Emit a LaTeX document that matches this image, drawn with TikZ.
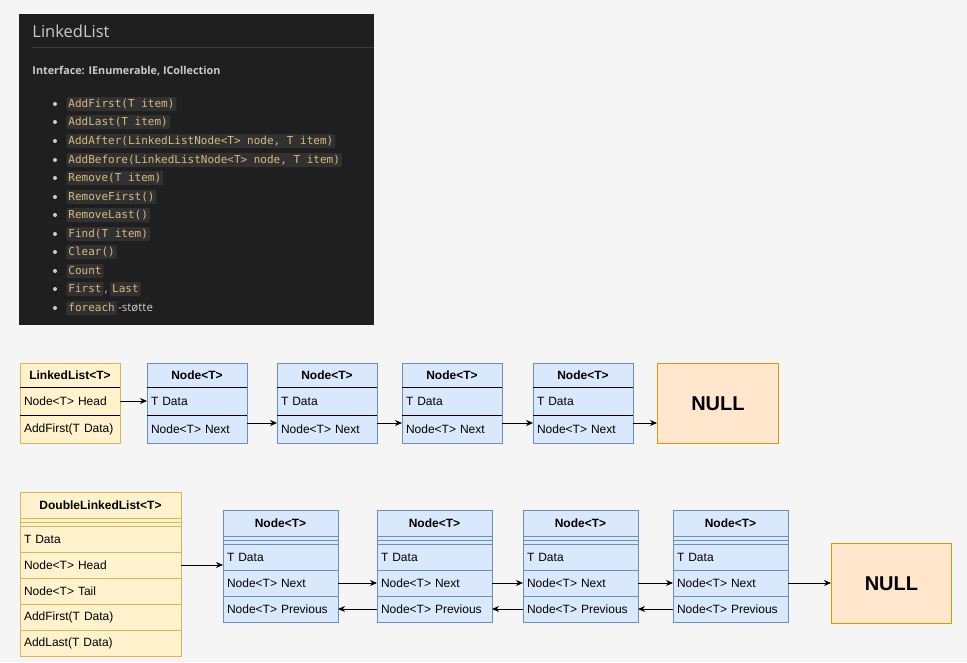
\documentclass[tikz,border=0pt]{standalone}
\usepackage{fontspec}
\setmainfont{Liberation Sans}
\newfontfamily\uifont{Open Sans}
\newfontfamily\codefont{DejaVu Sans Mono}
\usetikzlibrary{positioning,arrows.meta}
\definecolor{bg}{HTML}{F5F5F5}
\definecolor{panel}{HTML}{1F1F1F}
\definecolor{chipbg}{HTML}{313131}
\definecolor{gold}{HTML}{D7BA7D}
\definecolor{ltext}{HTML}{CCCCCC}
\definecolor{rulec}{HTML}{3A3A3A}
\definecolor{yfill}{HTML}{FFF2CC}
\definecolor{ydraw}{HTML}{D6B656}
\definecolor{bfill}{HTML}{DAE8FC}
\definecolor{bdraw}{HTML}{6C8EBF}
\definecolor{nfill}{HTML}{FFE6CC}
\definecolor{ndraw}{HTML}{D79B00}

\begin{document}
\begin{tikzpicture}[x=1pt,y=-1pt,line width=0.9pt,
  hd/.style={anchor=north west,minimum width=#1,minimum height=24pt,inner sep=0pt,outer sep=0pt,font=\fontsize{12}{14}\selectfont\bfseries},
  rw/.style={text width=#1,inner xsep=4pt,inner ysep=0pt,outer sep=0pt,minimum height=28pt,align=left,font=\fontsize{12}{14}\selectfont},
  dr/.style={rw=#1,minimum height=26pt},
  sp/.style={minimum width=#1,minimum height=8pt,inner sep=0pt,outer sep=0pt},
  nul/.style={anchor=north west,fill=nfill,draw=ndraw,inner sep=0pt,font=\fontsize{20}{24}\selectfont\bfseries},
  arr/.style={-{Stealth[length=7pt,width=6pt]}},
  chip/.style={anchor=west,fill=chipbg,rounded corners=2pt,text=gold,font=\codefont\fontsize{11}{12}\selectfont,inner xsep=2pt,inner ysep=1.5pt,text height=8.5pt,text depth=2.5pt},
  plain/.style={anchor=west,inner sep=0pt,text=ltext,font=\uifont\fontsize{11.5}{13}\selectfont}]
\fill[bg] (0,0) rectangle (967,662);
\useasboundingbox (0,0) rectangle (967,662);

% dark panel
\fill[panel] (19,14) rectangle (374,325);
\node[plain,font=\uifont\fontsize{16.5}{19}\selectfont] (ti) at (32,31) {LinkedList};
\draw[rulec] (32,47) -- (374,47);
\node[plain,font=\uifont\bfseries\fontsize{10.8}{12}\selectfont] (if) at (32,71) {Interface: IEnumerable, ICollection};
\foreach \y in {104,122,141,160,178,197,215,234,252,271,289,308}
  \fill[ltext] (55,\y) circle (2pt);
\node[chip] (m1) at (66,104) {AddFirst(T item)};
\node[chip] (m2) at (66,122) {AddLast(T item)};
\node[chip] (m3) at (66,141) {AddAfter(LinkedListNode<T> node, T item)};
\node[chip] (m4) at (66,160) {AddBefore(LinkedListNode<T> node, T item)};
\node[chip] (m5) at (66,178) {Remove(T item)};
\node[chip] (m6) at (66,197) {RemoveFirst()};
\node[chip] (m7) at (66,215) {RemoveLast()};
\node[chip] (m8) at (66,234) {Find(T item)};
\node[chip] (m9) at (66,252) {Clear()};
\node[chip] (m10) at (66,271) {Count};
\node[chip] (m11) at (66,289) {First};
\node[plain,text height=8.5pt,text depth=2.5pt,right=0.5pt of m11] (k) {,};
\node[chip,right=1.5pt of k] (m12) {Last};
\node[chip] (m13) at (66,308) {foreach};
\node[plain,text height=8.5pt,text depth=2.5pt,right=0.5pt of m13] (st) {-støtte};

% singly linked
\node[hd=100pt,fill=yfill] (l) at (20,363) {LinkedList<T>};
\node[rw=92pt,fill=yfill,below=0pt of l] (l1) {Node<T> Head};
\node[rw=92pt,fill=yfill,below=0pt of l1] (l2) {AddFirst(T Data)};
\draw[ydraw] (l.north west) rectangle (l2.south east);
\draw (l.south west) -- (l.south east) (l1.south west) -- (l1.south east);

\node[hd=100pt,fill=bfill] (a) at (147,363) {Node<T>};
\node[rw=92pt,fill=bfill,below=0pt of a] (a1) {T Data};
\node[rw=92pt,fill=bfill,below=0pt of a1] (a2) {Node<T> Next};
\draw[bdraw] (a.north west) rectangle (a2.south east);
\draw (a.south west) -- (a.south east) (a1.south west) -- (a1.south east);

\node[hd=100pt,fill=bfill] (b) at (277,363) {Node<T>};
\node[rw=92pt,fill=bfill,below=0pt of b] (b1) {T Data};
\node[rw=92pt,fill=bfill,below=0pt of b1] (b2) {Node<T> Next};
\draw[bdraw] (b.north west) rectangle (b2.south east);
\draw (b.south west) -- (b.south east) (b1.south west) -- (b1.south east);

\node[hd=100pt,fill=bfill] (c) at (402,363) {Node<T>};
\node[rw=92pt,fill=bfill,below=0pt of c] (c1) {T Data};
\node[rw=92pt,fill=bfill,below=0pt of c1] (c2) {Node<T> Next};
\draw[bdraw] (c.north west) rectangle (c2.south east);
\draw (c.south west) -- (c.south east) (c1.south west) -- (c1.south east);

\node[hd=100pt,fill=bfill] (d) at (533,363) {Node<T>};
\node[rw=92pt,fill=bfill,below=0pt of d] (d1) {T Data};
\node[rw=92pt,fill=bfill,below=0pt of d1] (d2) {Node<T> Next};
\draw[bdraw] (d.north west) rectangle (d2.south east);
\draw (d.south west) -- (d.south east) (d1.south west) -- (d1.south east);

\node[nul,minimum width=121pt,minimum height=80pt] (e) at (657,363) {NULL};

\draw[arr] (l1.east) -- (a1.west);
\draw[arr] ([yshift=6pt]a2.east) -- ([yshift=6pt]b2.west);
\draw[arr] ([yshift=6pt]b2.east) -- ([yshift=6pt]c2.west);
\draw[arr] ([yshift=6pt]c2.east) -- ([yshift=6pt]d2.west);
\path ([yshift=6pt]d2.east) coordinate (dn);
\draw[arr] (dn) -- (dn -| e.west);

% doubly linked
\node[hd=161pt,minimum height=26pt,fill=yfill] (z) at (20,492) {DoubleLinkedList<T>};
\node[sp=161pt,fill=yfill,below=0pt of z] (zs) {};
\node[dr=153pt,fill=yfill,below=0pt of zs] (z1) {T Data};
\node[dr=153pt,fill=yfill,below=0pt of z1] (z2) {Node<T> Head};
\node[dr=153pt,fill=yfill,below=0pt of z2] (z3) {Node<T> Tail};
\node[dr=153pt,fill=yfill,below=0pt of z3] (z4) {AddFirst(T Data)};
\node[dr=153pt,fill=yfill,below=0pt of z4] (z5) {AddLast(T Data)};
\draw[ydraw] (z.north west) rectangle (z5.south east);
\draw[ydraw] (z.south west) -- (z.south east) (zs.west) -- (zs.east) (zs.south west) -- (zs.south east)
  (z1.south west) -- (z1.south east) (z2.south west) -- (z2.south east)
  (z3.south west) -- (z3.south east) (z4.south west) -- (z4.south east);

\node[hd=115pt,minimum height=26pt,fill=bfill] (p) at (223,510) {Node<T>};
\node[sp=115pt,fill=bfill,below=0pt of p] (ps) {};
\node[dr=107pt,fill=bfill,below=0pt of ps] (p1) {T Data};
\node[dr=107pt,fill=bfill,below=0pt of p1] (p2) {Node<T> Next};
\node[dr=107pt,fill=bfill,below=0pt of p2] (p3) {Node<T> Previous};
\draw[bdraw] (p.north west) rectangle (p3.south east);
\draw[bdraw] (p.south west) -- (p.south east) (ps.west) -- (ps.east) (ps.south west) -- (ps.south east)
  (p1.south west) -- (p1.south east) (p2.south west) -- (p2.south east);

\node[hd=115pt,minimum height=26pt,fill=bfill] (q) at (377,510) {Node<T>};
\node[sp=115pt,fill=bfill,below=0pt of q] (qs) {};
\node[dr=107pt,fill=bfill,below=0pt of qs] (q1) {T Data};
\node[dr=107pt,fill=bfill,below=0pt of q1] (q2) {Node<T> Next};
\node[dr=107pt,fill=bfill,below=0pt of q2] (q3) {Node<T> Previous};
\draw[bdraw] (q.north west) rectangle (q3.south east);
\draw[bdraw] (q.south west) -- (q.south east) (qs.west) -- (qs.east) (qs.south west) -- (qs.south east)
  (q1.south west) -- (q1.south east) (q2.south west) -- (q2.south east);

\node[hd=115pt,minimum height=26pt,fill=bfill] (r) at (523,510) {Node<T>};
\node[sp=115pt,fill=bfill,below=0pt of r] (rs) {};
\node[dr=107pt,fill=bfill,below=0pt of rs] (r1) {T Data};
\node[dr=107pt,fill=bfill,below=0pt of r1] (r2) {Node<T> Next};
\node[dr=107pt,fill=bfill,below=0pt of r2] (r3) {Node<T> Previous};
\draw[bdraw] (r.north west) rectangle (r3.south east);
\draw[bdraw] (r.south west) -- (r.south east) (rs.west) -- (rs.east) (rs.south west) -- (rs.south east)
  (r1.south west) -- (r1.south east) (r2.south west) -- (r2.south east);

\node[hd=115pt,minimum height=26pt,fill=bfill] (s) at (673,510) {Node<T>};
\node[sp=115pt,fill=bfill,below=0pt of s] (ss) {};
\node[dr=107pt,fill=bfill,below=0pt of ss] (s1) {T Data};
\node[dr=107pt,fill=bfill,below=0pt of s1] (s2) {Node<T> Next};
\node[dr=107pt,fill=bfill,below=0pt of s2] (s3) {Node<T> Previous};
\draw[bdraw] (s.north west) rectangle (s3.south east);
\draw[bdraw] (s.south west) -- (s.south east) (ss.west) -- (ss.east) (ss.south west) -- (ss.south east)
  (s1.south west) -- (s1.south east) (s2.south west) -- (s2.south east);

\node[nul,minimum width=120pt,minimum height=80pt] (t) at (831,543) {NULL};

\draw[arr] (z2.east) -- (z2.east -| p.west);
\draw[arr] (p2.east) -- (q2.west);
\draw[arr] (q2.east) -- (r2.west);
\draw[arr] (r2.east) -- (s2.west);
\draw[arr] (s2.east) -- (s2.east -| t.west);
\draw[arr] (q3.west) -- (p3.east);
\draw[arr] (r3.west) -- (q3.east);
\draw[arr] (s3.west) -- (r3.east);
\end{tikzpicture}
\end{document}
